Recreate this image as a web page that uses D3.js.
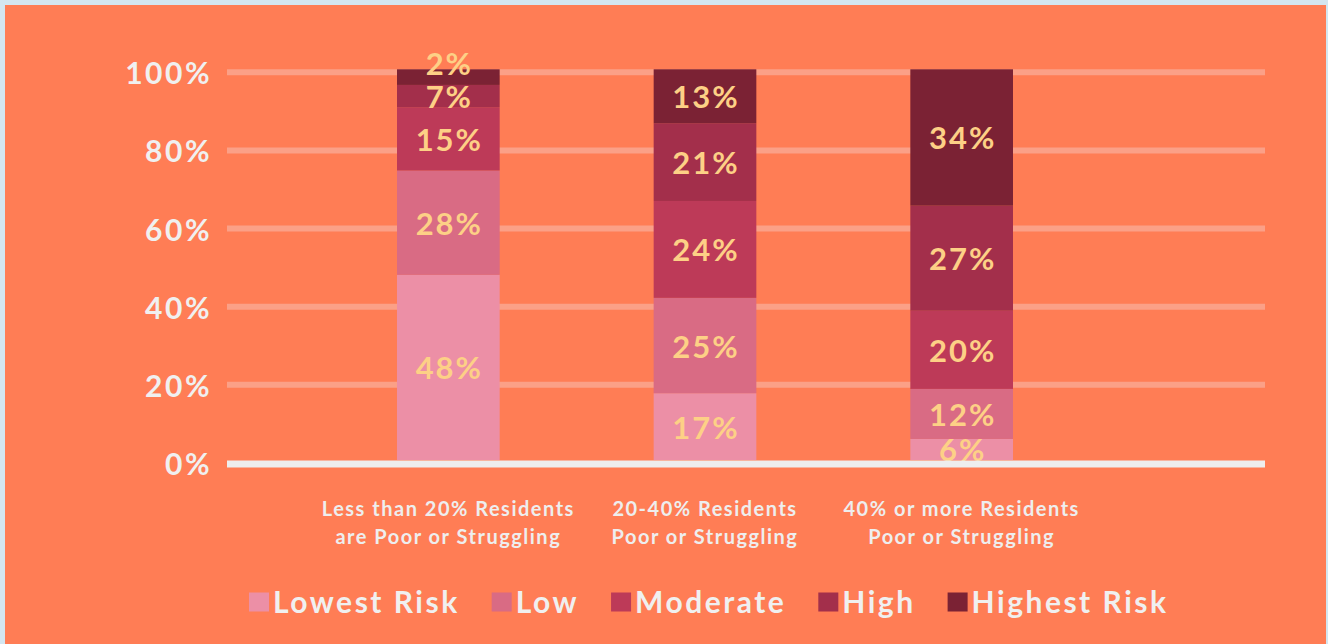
<!DOCTYPE html>
<html>
<head>
<meta charset="utf-8">
<script src="https://cdn.jsdelivr.net/npm/d3@7"></script>
<style>
  html, body { margin: 0; padding: 0; background: #d4e6f0; }
  svg { display: block; }
  text { font-family: Lato, "Open Sans", sans-serif; font-weight: 700; }
</style>
</head>
<body>
<svg id="chart"></svg>
<script>
const WIDTH = 1328;
const HEIGHT = 644;

// categories (two lines each)
const categories = [
  ['Less than 20% Residents', 'are Poor or Struggling'],
  ['20-40% Residents', 'Poor or Struggling'],
  ['40% or more Residents', 'Poor or Struggling'],
];
const riskLevels = ['Lowest Risk', 'Low', 'Moderate', 'High', 'Highest Risk'];
const riskColors = ['#ec8fa6', '#d96b84', '#bd3a58', '#a32f4b', '#7b2234'];

// segment heights as drawn (percent)
const lowestRisk = [47.4, 17.1, 5.4];
const lowRisk = [26.7, 24.4, 12.8];
const moderateRisk = [16.2, 24.8, 20.0];
const highRisk = [5.7, 19.9, 26.9];
const highestRisk = [4.0, 13.8, 34.9];

// percentages printed on the segments
const lowestLabels = [48, 17, 6];
const lowLabels = [28, 25, 12];
const moderateLabels = [15, 24, 20];
const highLabels = [7, 21, 27];
const highestLabels = [2, 13, 34];

const yTicks = [0, 20, 40, 60, 80, 100];

const series = [lowestRisk, lowRisk, moderateRisk, highRisk, highestRisk];
const seriesLabels = [lowestLabels, lowLabels, moderateLabels, highLabels, highestLabels];

const rows = categories.map((c, i) => {
  const row = { idx: i };
  riskLevels.forEach((r, k) => { row[r] = series[k][i]; });
  return row;
});

const stack = d3.stack().keys(riskLevels);
const stacked = stack(rows);

const svg = d3.select('#chart').attr('width', WIDTH).attr('height', HEIGHT);

svg.append('rect')
  .attr('x', 5).attr('y', 5)
  .attr('width', 1321).attr('height', HEIGHT)
  .attr('fill', '#ff7d55');

const x = d3.scaleBand()
  .domain(categories.map((c, i) => i))
  .range([320, 1090])
  .paddingInner(0.6)
  .paddingOuter(0.3);

const y = d3.scaleLinear().domain([0, 100]).range([460, 69.3]);

const gridX0 = 227;
const gridX1 = 1265;

// gridlines
svg.append('g')
  .selectAll('line')
  .data(yTicks.filter((t) => t > 0))
  .enter()
  .append('line')
  .attr('x1', gridX0)
  .attr('x2', gridX1)
  .attr('y1', (d) => y(d) + 3)
  .attr('y2', (d) => y(d) + 3)
  .attr('stroke', '#fba087')
  .attr('stroke-width', 6);

// tick labels
svg.append('g')
  .selectAll('text')
  .data(yTicks)
  .enter()
  .append('text')
  .attr('x', 212)
  .attr('y', (d) => y(d) + 3)
  .attr('text-anchor', 'end')
  .attr('dominant-baseline', 'central')
  .attr('fill', '#f0f0f0')
  .style('font-size', '30px')
  .style('letter-spacing', '2.5px')
  .text((d) => `${d}%`);

// bars
const layers = svg.append('g')
  .selectAll('g')
  .data(stacked)
  .enter()
  .append('g')
  .attr('fill', (d, k) => riskColors[k]);

layers.selectAll('rect')
  .data((d) => d)
  .enter()
  .append('rect')
  .attr('x', (d) => x(d.data.idx))
  .attr('width', x.bandwidth())
  .attr('y', (d) => y(d[1]))
  .attr('height', (d) => y(d[0]) - y(d[1]));

// segment labels: centred, thin top segments pushed above
const labelY = (d) => {
  const top = y(d[1]);
  const bottom = y(d[0]);
  return bottom - top < 18 ? top - 6 : (top + bottom) / 2;
};
stacked.forEach((layer, k) => {
  svg.append('g')
    .selectAll('text')
    .data(layer)
    .enter()
    .append('text')
    .attr('x', (d) => x(d.data.idx) + x.bandwidth() / 2 + 1)
    .attr('y', labelY)
    .attr('text-anchor', 'middle')
    .attr('dominant-baseline', 'central')
    .attr('fill', '#fdd086')
    .style('font-size', '31px')
    .style('letter-spacing', '2px')
    .text((d) => `${seriesLabels[k][d.data.idx]}%`);
});

// baseline
svg.append('line')
  .attr('x1', gridX0)
  .attr('x2', gridX1)
  .attr('y1', y(0) + 4)
  .attr('y2', y(0) + 4)
  .attr('stroke', '#eeeeee')
  .attr('stroke-width', 7);

// category labels
const catG = svg.append('g');
categories.forEach((lines, i) => {
  const t = catG.append('text')
    .attr('text-anchor', 'middle')
    .attr('fill', '#eeeeee')
    .style('font-size', '20px')
    .style('letter-spacing', '1.5px');
  lines.forEach((line, j) => {
    t.append('tspan')
      .attr('x', x(i) + x.bandwidth() / 2)
      .attr('y', 516 + j * 28)
      .text(line);
  });
});

// legend
const legend = svg.append('g');
let lx = 249;
riskLevels.forEach((r, k) => {
  legend.append('rect')
    .attr('x', lx)
    .attr('y', 592.5)
    .attr('width', 20)
    .attr('height', 19)
    .attr('fill', riskColors[k]);
  const t = legend.append('text')
    .attr('x', lx + 24)
    .attr('y', 613)
    .attr('fill', '#f0f0f0')
    .style('font-size', '30px')
    .style('letter-spacing', '2.5px')
    .text(r);
  lx += 24 + t.node().getComputedTextLength() + 32;
});
</script>
</body>
</html>
